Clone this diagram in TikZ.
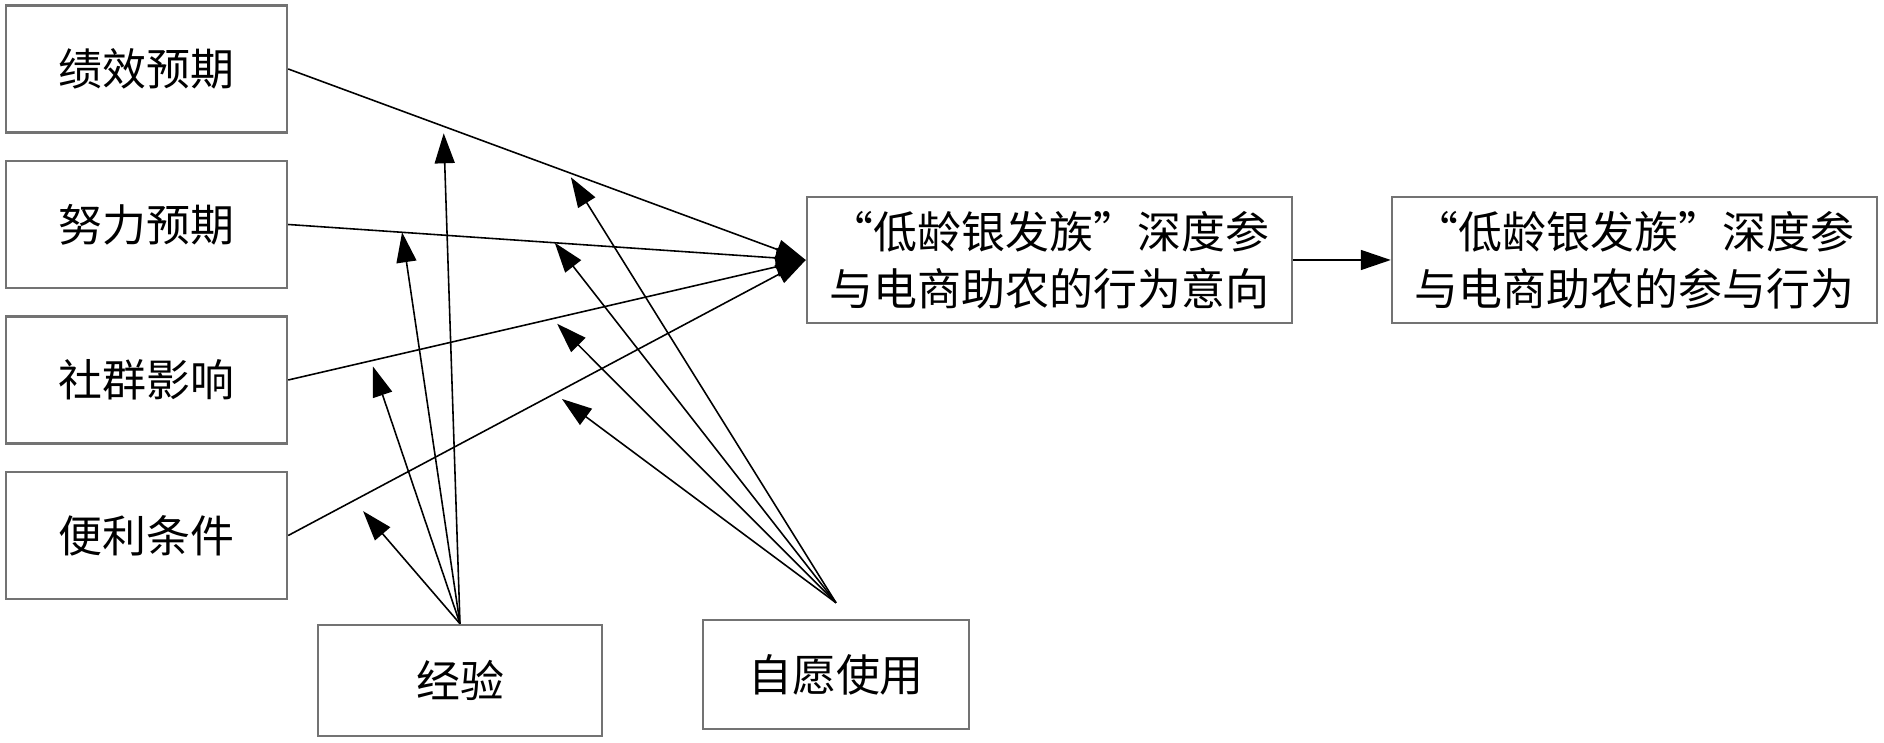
\documentclass[tikz,border=0pt]{standalone}
\usepackage{fontspec}
\newfontfamily\cjk[RawFeature=+fwid]{Noto Sans CJK SC}
\usetikzlibrary{arrows.meta,positioning}

\tikzset{
  box/.style={draw=black!55, line width=0.7pt, rectangle, minimum width=2.81cm,
    minimum height=1.27cm, inner sep=0pt, align=center,
    font=\cjk\fontsize{12.5pt}{16.2pt}\selectfont},
  wide/.style={box, minimum width=4.85cm, minimum height=1.26cm},
  link/.style={line width=0.45pt, -{Triangle[length=0.3cm,width=0.2cm]}},
}

\begin{document}
\begin{tikzpicture}[node distance=1.555cm,on grid]
  \useasboundingbox (0,0) rectangle (18.84,-7.43);
  \path
  node[box] (perf) at (1.465,-0.69) {绩效预期}
  node[box] (effort) [below=of perf] {努力预期}
  node[box] (social) [below=of effort] {社群影响}
  node[box] (facil) [below=of social] {便利条件}
  node[box, minimum width=2.84cm, minimum height=1.11cm] (exp) at (4.60,-6.805) {经验}
  node[box, minimum width=2.66cm, minimum height=1.09cm] (vol) at (8.36,-6.745) {自愿使用}
  node[wide] (intent) at (10.495,-2.60) {“低龄银发族”深度参\\与电商助农的行为意向}
  node[wide] (behav) [right=5.85cm of intent] {“低龄银发族”深度参\\与电商助农的参与行为}
  ;
  \coordinate (volin) at ([yshift=0.16cm]vol.north);

  % four predictors into intention
  \draw[link] (perf.east) -- coordinate[pos=0.30] (m1) coordinate[pos=0.54] (m5) (intent.west);
  \draw[link] (effort.east) -- coordinate[pos=0.22] (m2) coordinate[pos=0.515] (m6) (intent.west);
  \draw[link] (social.east) -- coordinate[pos=0.16] (m3) coordinate[pos=0.51] (m7) (intent.west);
  \draw[link] (facil.east) -- coordinate[pos=0.127] (m4) coordinate[pos=0.515] (m8) (intent.west);

  \path[link]
  (intent) edge (behav)

  % moderators
  (exp.north) edge[shorten >=0.07cm] (m1)
  (exp.north) edge (m2)
  (exp.north) edge[shorten >=0.06cm] (m3)
  (exp.north) edge[shorten >=0.14cm] (m4)

  (volin) edge[shorten >=0.06cm] (m5)
  (volin) edge (m6)
  (volin) edge[shorten >=0.07cm] (m7)
  (volin) edge[shorten >=0.09cm] (m8)
  ;
\end{tikzpicture}
\end{document}
